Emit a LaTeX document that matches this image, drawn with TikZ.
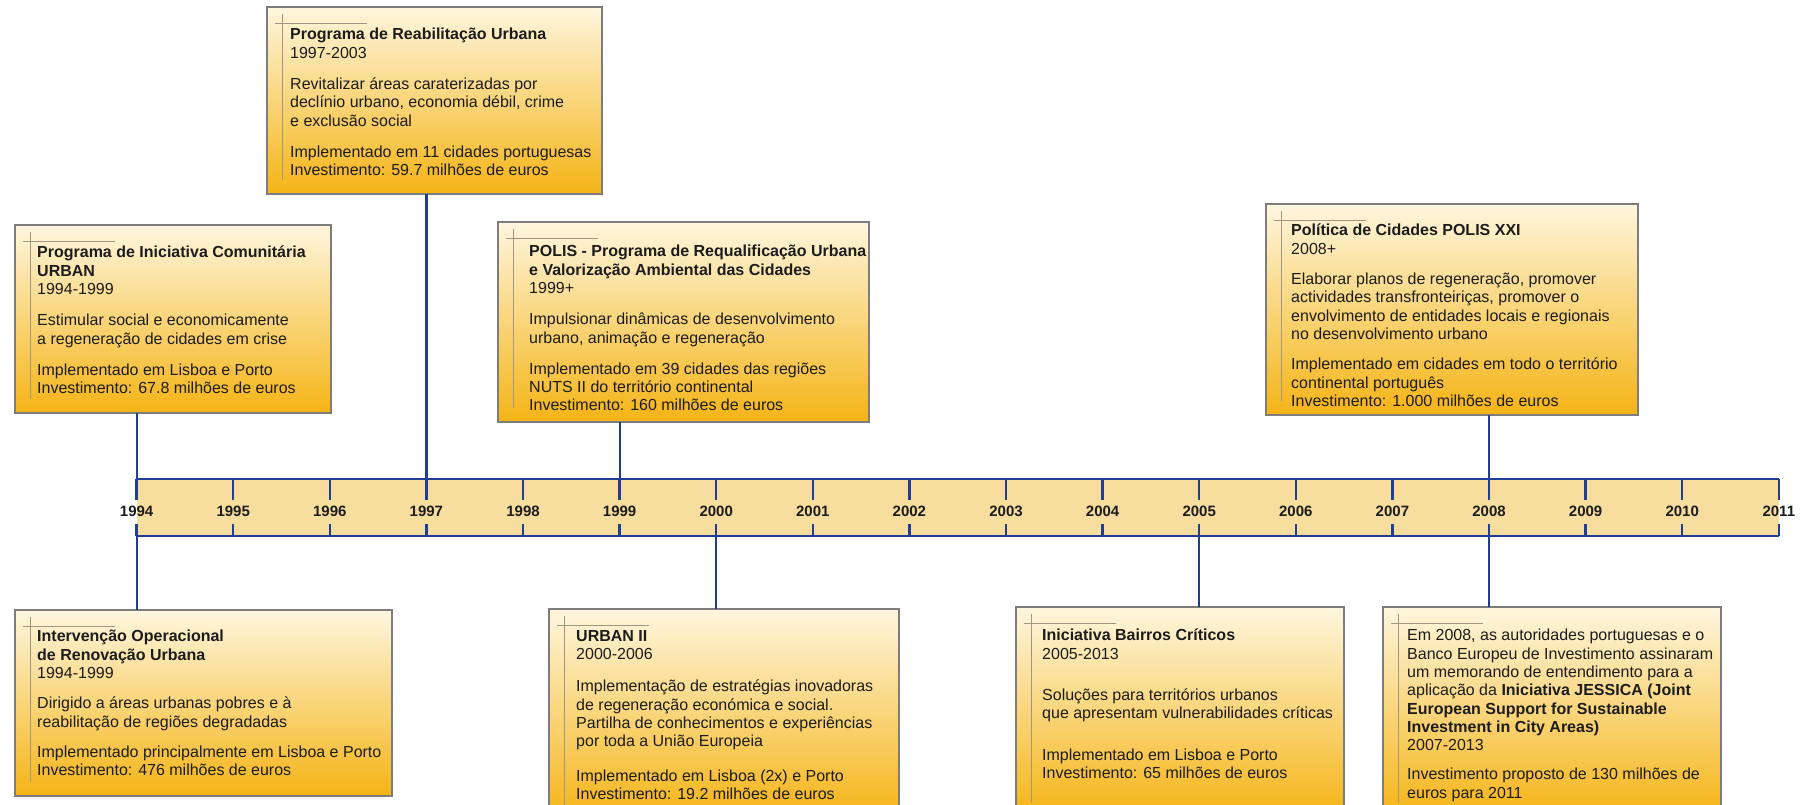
\documentclass[tikz,border=0pt]{standalone}
\usepackage{fontspec}
\setmainfont{Liberation Sans}
\definecolor{bandfill}{RGB}{247,222,158}
\definecolor{bandline}{RGB}{34,62,148}
\definecolor{boxtop}{RGB}{254,246,222}
\definecolor{boxbottom}{RGB}{245,180,22}
\definecolor{boxedge}{RGB}{125,125,125}
\definecolor{decoline}{RGB}{160,150,130}
\definecolor{inktext}{RGB}{28,28,28}

\begin{document}
\begin{tikzpicture}[x=1pt,y=-1pt,
  infobox/.style={draw=boxedge, line width=1.3pt, top color=boxtop,
    bottom color=boxbottom, anchor=north west, inner sep=0, outer sep=0},
  boxtext/.style={anchor=north west, inner sep=0, align=left, text=inktext,
    font=\fontsize{16}{18.3}\selectfont, execute at begin node=\strut},
  deco/.style={decoline, line width=0.8pt},
  bandrule/.style={bandline, line width=2.3pt},
  link/.style={bandline, line width=2.2pt},
  yearlabel/.style={font=\bfseries\fontsize{15}{18}\selectfont, text=inktext, inner sep=1pt}]
  % Page frame
  \useasboundingbox (0,0) rectangle (1811,804);
  \clip (0,0) rectangle (1811,804);
  % Year positions on the band
  \foreach \y in {1994,...,2011} {
    \coordinate (t\y) at ({136.6+96.6*(\y-1994)},479);
    \coordinate (b\y) at ({136.6+96.6*(\y-1994)},536);
  }
  % Band of years
  \fill[bandfill] (t1994) rectangle (b2011);
  \draw[bandrule] (t1994) -- (t2011);
  \draw[bandrule] (b1994) -- (b2011);
  \foreach \y in {1994,...,2011} {
    \draw[bandrule] (t\y) -- ++(0,21);
    \draw[bandrule] (b\y) -- ++(0,-12);
    \node[yearlabel] (l\y) at ({136.6+96.6*(\y-1994)},511) {\y};
  }
  % Upper boxes
  \node[infobox, minimum width=316, minimum height=188] (urban) at (15,225) {};
  \node[boxtext] (urbantxt) at ([shift={(22,21)}]urban.north west)
    {\textbf{Programa de Iniciativa Comunitária}\\
     \textbf{URBAN}\\
     1994-1999\\[13pt]
     Estimular social e economicamente\\
     a regeneração de cidades em crise\\[13pt]
     Implementado em Lisboa e Porto\\
     Investimento: 67.8 milhões de euros};
  \node[infobox, minimum width=335, minimum height=187] (reab) at (267,7) {};
  \node[boxtext] (reabtxt) at ([shift={(23,21)}]reab.north west)
    {\textbf{Programa de Reabilitação Urbana}\\
     1997-2003\\[13pt]
     Revitalizar áreas caraterizadas por\\
     declínio urbano, economia débil, crime\\
     e exclusão social\\[13pt]
     Implementado em 11 cidades portuguesas\\
     Investimento: 59.7 milhões de euros};
  \node[infobox, minimum width=371, minimum height=200] (polis) at (498,222) {};
  \node[boxtext] (polistxt) at ([shift={(31,23)}]polis.north west)
    {\textbf{POLIS - Programa de Requalificação Urbana}\\
     \textbf{e Valorização Ambiental das Cidades}\\
     1999+\\[13pt]
     Impulsionar dinâmicas de desenvolvimento\\
     urbano, animação e regeneração\\[13pt]
     Implementado em 39 cidades das regiões\\
     NUTS II do território continental\\
     Investimento: 160 milhões de euros};
  \node[infobox, minimum width=372, minimum height=211] (polisxxi) at (1266,204) {};
  \node[boxtext] (polisxxitxt) at ([shift={(25,20)}]polisxxi.north west)
    {\textbf{Política de Cidades POLIS XXI}\\
     2008+\\[12pt]
     Elaborar planos de regeneração, promover\\
     actividades transfronteiriças, promover o\\
     envolvimento de entidades locais e regionais\\
     no desenvolvimento urbano\\[12pt]
     Implementado em cidades em todo o território\\
     continental português\\
     Investimento: 1.000 milhões de euros};
  % Lower boxes
  \node[infobox, minimum width=377, minimum height=186] (iorurb) at (15,610) {};
  \node[boxtext] (iorurbtxt) at ([shift={(22,20)}]iorurb.north west)
    {\textbf{Intervenção Operacional}\\
     \textbf{de Renovação Urbana}\\
     1994-1999\\[12pt]
     Dirigido a áreas urbanas pobres e à\\
     reabilitação de regiões degradadas\\[12pt]
     Implementado principalmente em Lisboa e Porto\\
     Investimento: 476 milhões de euros};
  \node[infobox, minimum width=350, minimum height=210] (urbanii) at (549,609) {};
  \node[boxtext] (urbaniitxt) at ([shift={(27,21)}]urbanii.north west)
    {\textbf{URBAN II}\\
     2000-2006\\[14pt]
     Implementação de estratégias inovadoras\\
     de regeneração económica e social.\\
     Partilha de conhecimentos e experiências\\
     por toda a União Europeia\\[16pt]
     Implementado em Lisboa (2x) e Porto\\
     Investimento: 19.2 milhões de euros};
  \node[infobox, minimum width=328, minimum height=210] (bairros) at (1016,607) {};
  \node[boxtext] (bairrostxt) at ([shift={(26,22)}]bairros.north west)
    {\textbf{Iniciativa Bairros Críticos}\\
     2005-2013\\[23pt]
     Soluções para territórios urbanos\\
     que apresentam vulnerabilidades críticas\\[23pt]
     Implementado em Lisboa e Porto\\
     Investimento: 65 milhões de euros};
  \node[infobox, minimum width=338, minimum height=210] (jessica) at (1383,607) {};
  \node[boxtext] (jessicatxt) at ([shift={(24,22)}]jessica.north west)
    {Em 2008, as autoridades portuguesas e o\\
     Banco Europeu de Investimento assinaram\\
     um memorando de entendimento para a\\
     aplicação da \textbf{Iniciativa JESSICA (Joint}\\
     \textbf{European Support for Sustainable}\\
     \textbf{Investment in City Areas)}\\
     2007-2013\\[11pt]
     Investimento proposto de 130 milhões de\\
     euros para 2011};
  % Corner marks inside the boxes
  \foreach \b in {urban,reab,polis,polisxxi,iorurb,urbanii,bairros,jessica} {
    \draw[deco] ([shift={(8,16)}]\b.north west) -- ++(92,0);
    \draw[deco] ([shift={(15,7)}]\b.north west) -- ([shift={(15,-14)}]\b.south west);
  }
  % Connectors to the band
  \draw[link] (urban.south -| t1994) -- (t1994);
  \draw[link] (reab.south -| t1997) -- (t1997);
  \draw[link] (polis.south -| t1999) -- (t1999);
  \draw[link] (polisxxi.south -| t2008) -- (t2008);
  \draw[link] (b1994) -- (b1994 |- iorurb.north);
  \draw[link] (b2000) -- (b2000 |- urbanii.north);
  \draw[link] (b2005) -- (b2005 |- bairros.north);
  \draw[link] (b2008) -- (b2008 |- jessica.north);
\end{tikzpicture}
\end{document}
